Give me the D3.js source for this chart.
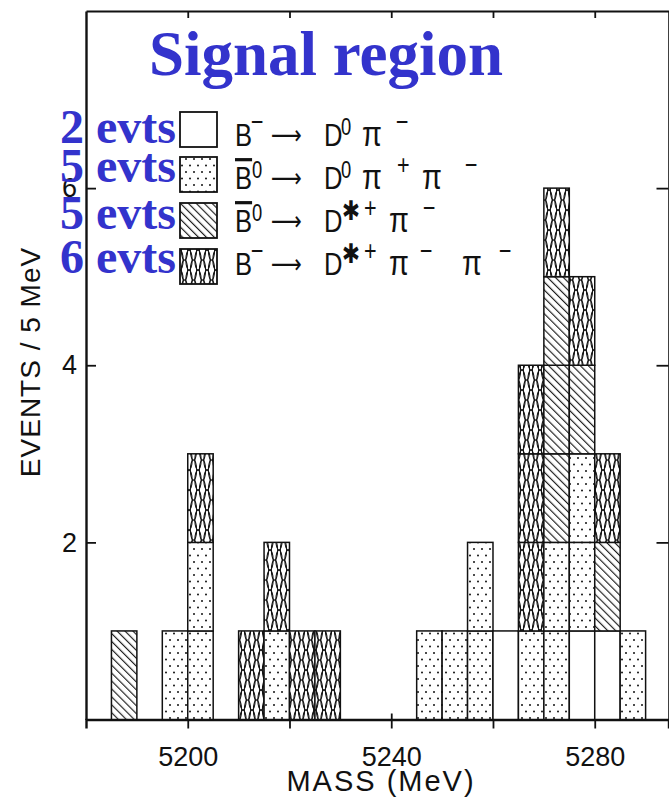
<!DOCTYPE html>
<html><head><meta charset="utf-8">
<script src="https://cdn.jsdelivr.net/npm/d3@7"></script>
<style>body{margin:0;background:#fff} svg{display:block}</style>
</head><body>
<svg id="c" width="669" height="798"></svg>
<script>
// ---- data ----
const binStart = [5185,5195,5200,5210,5215,5220,5225,5245,5250,5255,5260,5265,5270,5275,5280,5285];
const binWidth = 5;
const cntOpen    = [0,0,0,0,0,0,0,0,0,0,1,0,0,1,1,0]; // B- -> D0 pi-
const cntDotted  = [0,1,2,0,1,0,0,1,1,2,0,1,2,2,0,1]; // B0bar -> D0 pi+ pi-
const cntHatched = [1,0,0,0,0,0,0,0,0,0,0,0,3,1,1,0]; // B0bar -> D*+ pi-
const cntCross   = [0,0,1,1,1,1,1,0,0,0,0,3,1,1,1,0]; // B- -> D*+ pi- pi-
const seriesKeys = ["open","dots","hatch","cross"];
const evtLabels = ["2 evts","5 evts","5 evts","6 evts"];
const xTicks = [5200,5220,5240,5260,5280];
const xTickLabels = [5200,5240,5280];
const yTicks = [2,4,6];
const titleText = "Signal region";
const xTitle = "MASS (MeV)";
const yTitle = "EVENTS / 5 MeV";
// legend decay strings as tokens: [text, kind] (s = raised sign, o = raised zero, p = pi, a = star, r = arrow, ov = overlined)
const legendTokens = [
  [["B"],["−","s"],["⟶","r"],["D"],["0","o"],["π","p"],["−","s"]],
  [["B","ov"],["0","o"],["⟶","r"],["D"],["0","o"],["π","p"],["+","s"],["π","p"],["−","s"]],
  [["B","ov"],["0","o"],["⟶","r"],["D"],["✱","a"],["+","s"],["π","p"],["−","s"]],
  [["B"],["−","s"],["⟶","r"],["D"],["✱","a"],["+","s"],["π","p"],["−","s"],["π","p"],["−","s"]]
];

const svg = d3.select("#c");
const x = d3.scaleLinear().domain([5180, 5294.5]).range([86, 668.5]);
const y = d3.scaleLinear().domain([0, 8]).range([719.5, 11]);

// ---- patterns ----
const defs = svg.append("defs");
const pd = defs.append("pattern").attr("id","dots").attr("patternUnits","userSpaceOnUse")
  .attr("width",8).attr("height",13);
pd.append("rect").attr("width",8).attr("height",13).attr("fill","#fff");
pd.append("circle").attr("cx",2).attr("cy",3).attr("r",1).attr("fill","#111");
pd.append("circle").attr("cx",6).attr("cy",9.5).attr("r",1).attr("fill","#111");

const ph = defs.append("pattern").attr("id","hatch").attr("patternUnits","userSpaceOnUse")
  .attr("width",5.6).attr("height",5.6).attr("patternTransform","rotate(-45)");
ph.append("rect").attr("width",5.6).attr("height",5.6).attr("fill","#fff");
ph.append("line").attr("x1",0.6).attr("y1",0).attr("x2",0.6).attr("y2",5.6)
  .attr("stroke","#111").attr("stroke-width",1.1);

const pcw = 9, pch = 20;
const pc = defs.append("pattern").attr("id","cross").attr("patternUnits","userSpaceOnUse")
  .attr("width",pcw).attr("height",pch);
pc.append("rect").attr("width",pcw).attr("height",pch).attr("fill","#fff");
[[pcw/2,pch/2],[0,0],[pcw,0],[0,pch],[pcw,pch]].forEach(([cx,cy])=>{
  pc.append("ellipse").attr("cx",cx).attr("cy",cy).attr("rx",pcw*0.35).attr("ry",pch/2)
    .attr("fill","none").attr("stroke","#111").attr("stroke-width",1.05);
});
const fillOf = {open:"#fff", dots:"url(#dots)", hatch:"url(#hatch)", cross:"url(#cross)"};

// ---- axes / frame ----
const axStyle = g => { g.selectAll("path,line").attr("stroke","#111"); g.selectAll("path").attr("stroke-width",2.4); g.selectAll("line").attr("stroke-width",1.8); };
const gb = svg.append("g").attr("transform",`translate(0,${y(0)})`)
  .call(d3.axisBottom(x).tickValues(xTicks).tickSize(9).tickSizeOuter(9).tickPadding(18)
    .tickFormat(d => xTickLabels.includes(d) ? d : ""));
gb.call(axStyle);
svg.append("g").attr("transform",`translate(0,${y(0)})`)
  .call(d3.axisTop(x).tickValues(xTicks).tickSize(6).tickFormat(""))
  .call(g=>g.select(".domain").remove()).call(axStyle);
svg.append("g").attr("transform",`translate(0,${y(8)})`)
  .call(d3.axisBottom(x).tickValues(xTicks).tickSize(7).tickSizeOuter(0).tickFormat(""))
  .call(axStyle).call(g=>g.select(".domain").attr("stroke-width",2));
const gl = svg.append("g").attr("transform",`translate(${x.range()[0]},0)`)
  .call(d3.axisLeft(y).tickValues(yTicks).tickSize(-10).tickSizeOuter(0).tickPadding(9));
gl.call(axStyle);
svg.append("g").attr("transform",`translate(${x.range()[1]},0)`)
  .call(d3.axisLeft(y).tickValues(yTicks).tickSize(12).tickSizeOuter(0).tickFormat(""))
  .call(axStyle).call(g=>g.select(".domain").attr("stroke-width",1.6));

svg.selectAll(".tick text").attr("font-family","Liberation Sans, Arial, sans-serif")
  .attr("font-size",27).attr("fill","#111");

// ---- bars ----
const boxes = [];
binStart.forEach((b,i)=>{
  let level = 0;
  const counts = {open:cntOpen[i], dots:cntDotted[i], hatch:cntHatched[i], cross:cntCross[i]};
  seriesKeys.forEach(k=>{
    for (let n=0;n<counts[k];n++){ boxes.push({b, level, k}); level++; }
  });
});
svg.append("g").selectAll("rect").data(boxes).join("rect")
  .attr("x", d=>x(d.b)).attr("width", d=>x(d.b+binWidth)-x(d.b))
  .attr("y", d=>y(d.level+1)).attr("height", d=>y(d.level)-y(d.level+1))
  .attr("fill", d=>fillOf[d.k]).attr("stroke","#111").attr("stroke-width",1.5);

// ---- axis titles ----
svg.append("text").attr("x",381).attr("y",791).attr("text-anchor","middle")
  .attr("font-family","Liberation Sans, Arial, sans-serif").attr("font-size",29)
  .attr("letter-spacing",2).attr("fill","#111").text(xTitle);
svg.append("text").attr("transform","translate(40,362) rotate(-90)").attr("text-anchor","middle")
  .attr("font-family","Liberation Sans, Arial, sans-serif").attr("font-size",28)
  .attr("letter-spacing",1).attr("fill","#111").text(yTitle);

// ---- legend ----
const boxTop = [112,157,203,249];
const textBase = [146,189,232,275];
const sx = 0.8;
const tokX = [
  [235,251,271,324,341,362,396],
  [235,252,271,324,341,362,397,422,465],
  [235,252,271,324,342,364,389,423],
  [235,251,271,324,342,364,389,420,462,499]
];
const kindStyle = {
  s:{size:27, dy:-15}, o:{size:23, dy:-11}, a:{size:27, dy:-12, weight:"bold"},
  p:{size:36, dy:0}, r:{size:27, dy:-2, family:"DejaVu Sans"},
  undefined:{size:32, dy:0}, ov:{size:32, dy:0}
};
const lg = svg.append("g");
legendTokens.forEach((row,i)=>{
  lg.append("rect").attr("x",180).attr("y",boxTop[i]).attr("width",37).attr("height",35)
    .attr("fill",fillOf[seriesKeys[i]]).attr("stroke","#111").attr("stroke-width",1.8);
  const t = lg.append("text").attr("transform",`translate(${tokX[i][0]},${textBase[i]}) scale(${sx},1)`)
    .attr("font-family","Liberation Sans, DejaVu Sans, sans-serif").attr("fill","#111");
  row.forEach(([s,kind],j)=>{
    const st = kindStyle[kind];
    const ts = t.append("tspan").attr("x",(tokX[i][j]-tokX[i][0])/sx).attr("y",st.dy)
      .attr("font-size",st.size).text(s);
    if (st.weight) ts.attr("font-weight",st.weight);
    if (st.family) ts.attr("font-family",st.family);
    if (kind==="ov") ts.style("text-decoration","overline");
  });
});

// ---- blue annotations ----
svg.append("text").attr("x",326).attr("y",75).attr("text-anchor","middle")
  .attr("font-family","Liberation Serif, Times New Roman, serif").attr("font-weight","bold")
  .attr("font-size",63).attr("fill","#3333cc").text(titleText);
const evY = [143,182,229,273];
svg.append("g").selectAll("text").data(evtLabels).join("text")
  .attr("x",176).attr("y",(d,i)=>evY[i]).attr("text-anchor","end")
  .attr("font-family","Liberation Serif, Times New Roman, serif").attr("font-weight","bold")
  .attr("font-size",48).attr("fill","#3333cc").text(d=>d);
</script>
</body></html>
